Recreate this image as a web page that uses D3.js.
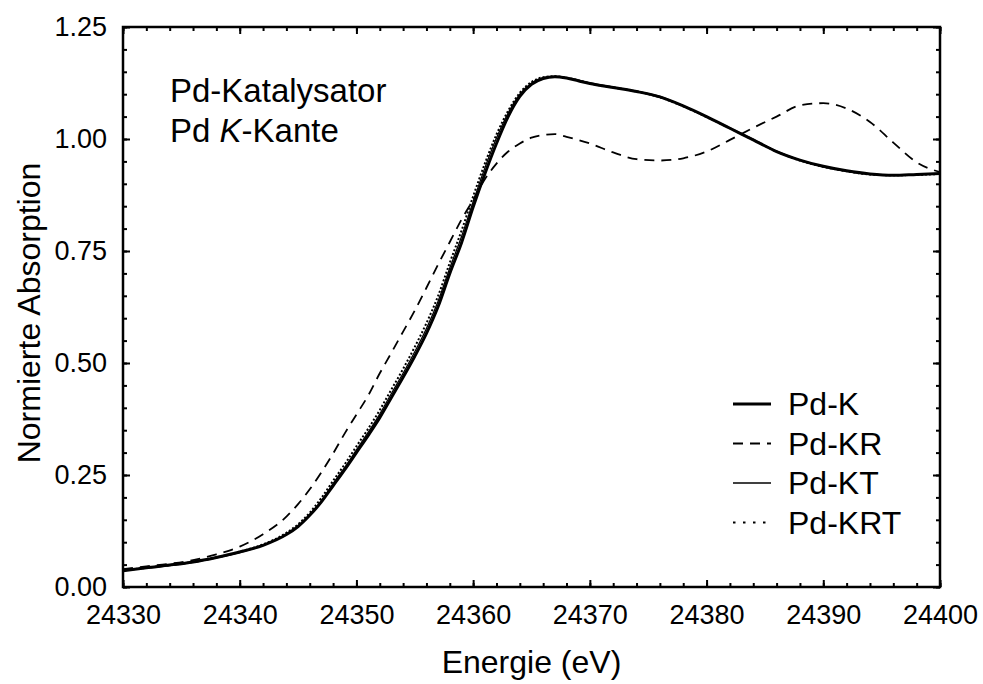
<!DOCTYPE html>
<html>
<head>
<meta charset="utf-8">
<script src="https://cdn.jsdelivr.net/npm/d3@7"></script>
<style>
  body { margin: 0; background: #fff; }
  svg text { font-family: Arial, "Liberation Sans", Helvetica, sans-serif; fill: #000; }
</style>
</head>
<body>
<svg></svg>
<script>
// energy grid (eV) shared by all spectra
var energy = [24330, 24332, 24334, 24336, 24338, 24340, 24342, 24344, 24345, 24346,
  24347, 24348, 24349, 24350, 24351, 24352, 24353, 24354, 24355, 24356,
  24357, 24358, 24359, 24360, 24361, 24362, 24363, 24364, 24365, 24366,
  24367, 24368, 24369, 24370, 24372, 24374, 24376, 24378, 24380, 24382,
  24384, 24386, 24388, 24390, 24392, 24394, 24396, 24398, 24400];

var pdK = [0.036, 0.043, 0.049, 0.056, 0.066, 0.078, 0.093, 0.117, 0.135, 0.160,
  0.190, 0.226, 0.262, 0.300, 0.338, 0.378, 0.423, 0.468, 0.515, 0.566,
  0.626, 0.700, 0.768, 0.848, 0.922, 0.990, 1.050, 1.095, 1.122, 1.135,
  1.139, 1.136, 1.130, 1.124, 1.115, 1.106, 1.094, 1.074, 1.050, 1.024,
  0.998, 0.972, 0.953, 0.939, 0.929, 0.922, 0.919, 0.921, 0.923];

var pdKR = [0.040, 0.046, 0.052, 0.060, 0.073, 0.090, 0.118, 0.157, 0.185, 0.218,
  0.256, 0.298, 0.343, 0.385, 0.427, 0.477, 0.523, 0.570, 0.617, 0.668,
  0.720, 0.770, 0.820, 0.864, 0.910, 0.945, 0.972, 0.990, 1.003, 1.009,
  1.011, 1.005, 0.998, 0.990, 0.970, 0.955, 0.952, 0.957, 0.972, 0.998,
  1.025, 1.050, 1.075, 1.080, 1.068, 1.038, 0.992, 0.948, 0.926];

var pdKT = [0.036, 0.042, 0.048, 0.055, 0.065, 0.077, 0.093, 0.118, 0.136, 0.162,
  0.193, 0.231, 0.267, 0.306, 0.345, 0.386, 0.432, 0.477, 0.525, 0.577,
  0.638, 0.712, 0.782, 0.860, 0.935, 1.002, 1.058, 1.100, 1.125, 1.137,
  1.140, 1.137, 1.131, 1.125, 1.116, 1.107, 1.095, 1.074, 1.050, 1.025,
  0.999, 0.973, 0.953, 0.938, 0.928, 0.921, 0.919, 0.920, 0.922];

var pdKRT = [0.037, 0.043, 0.049, 0.056, 0.066, 0.079, 0.095, 0.121, 0.140, 0.166,
  0.199, 0.237, 0.274, 0.314, 0.353, 0.395, 0.441, 0.487, 0.536, 0.589,
  0.650, 0.724, 0.795, 0.872, 0.945, 1.010, 1.063, 1.103, 1.127, 1.138,
  1.140, 1.137, 1.131, 1.124, 1.115, 1.106, 1.093, 1.073, 1.049, 1.024,
  0.998, 0.972, 0.952, 0.938, 0.928, 0.921, 0.919, 0.920, 0.922];

var seriesNames = ['Pd-K', 'Pd-KR', 'Pd-KT', 'Pd-KRT'];
var xTicks = [24330, 24340, 24350, 24360, 24370, 24380, 24390, 24400];
var yTicks = [0, 0.25, 0.5, 0.75, 1.0, 1.25];

var width = 983, height = 684;
var margin = {left: 123, right: 43, top: 27, bottom: 97};
var plotW = width - margin.left - margin.right,
    plotH = height - margin.top - margin.bottom;

var svg = d3.select('svg')
  .attr('width', width)
  .attr('height', height);

var x = d3.scaleLinear().domain([24330, 24400]).range([0, plotW]);
var y = d3.scaleLinear().domain([0, 1.25]).range([plotH, 0]);

var g = svg.append('g').attr('transform', 'translate(' + margin.left + ',' + margin.top + ')');

g.append('clipPath').attr('id', 'clip')
  .append('rect').attr('width', plotW).attr('height', plotH);

var styles = [
  {w: 3, dash: null, legDash: null},
  {w: 1.8, dash: '10,7', legDash: '10,7'},
  {w: 1.3, dash: null, legDash: null},
  {w: 2, dash: '2,2', legDash: '2.5,7.5'}
];
var values = [pdK, pdKR, pdKT, pdKRT];

var line = d3.line()
  .x(function(d) { return x(d[0]); })
  .y(function(d) { return y(d[1]); })
  .curve(d3.curveMonotoneX);

var gLines = g.append('g').attr('clip-path', 'url(#clip)');
// thick one first, thin ones over it
[0, 1, 3, 2].forEach(function(i) {
  var pts = energy.map(function(e, k) { return [e, values[i][k]]; });
  gLines.append('path')
    .attr('d', line(pts))
    .attr('fill', 'none')
    .attr('stroke', '#000')
    .attr('stroke-width', styles[i].w)
    .attr('stroke-dasharray', styles[i].dash);
});

// axes: ticks inside, on all four sides
var xMinor = d3.range(24330, 24400.1, 2);
var yMinor = d3.range(0, 1.2501, 0.05);

function tickStyle(sel) {
  sel.select('.domain').remove();
  sel.selectAll('line').attr('stroke', '#000').attr('stroke-width', 2);
}

g.append('g').attr('transform', 'translate(0,' + plotH + ')')
  .call(d3.axisBottom(x).tickValues(xMinor).tickSize(-4).tickFormat(''))
  .call(tickStyle);
g.append('g').attr('transform', 'translate(0,' + plotH + ')')
  .call(d3.axisBottom(x).tickValues(xTicks).tickSize(-7).tickPadding(18).tickFormat(d3.format('d')))
  .call(tickStyle)
  .selectAll('text').attr('font-size', 27);

g.append('g')
  .call(d3.axisTop(x).tickValues(xMinor).tickSize(-4).tickFormat(''))
  .call(tickStyle);
g.append('g')
  .call(d3.axisTop(x).tickValues(xTicks).tickSize(-7).tickFormat(''))
  .call(tickStyle);

g.append('g')
  .call(d3.axisLeft(y).tickValues(yMinor).tickSize(-4).tickFormat(''))
  .call(tickStyle);
g.append('g')
  .call(d3.axisLeft(y).tickValues(yTicks).tickSize(-7).tickPadding(16).tickFormat(d3.format('.2f')))
  .call(tickStyle)
  .selectAll('text').attr('font-size', 27);

g.append('g').attr('transform', 'translate(' + plotW + ',0)')
  .call(d3.axisRight(y).tickValues(yMinor).tickSize(-4).tickFormat(''))
  .call(tickStyle);
g.append('g').attr('transform', 'translate(' + plotW + ',0)')
  .call(d3.axisRight(y).tickValues(yTicks).tickSize(-7).tickFormat(''))
  .call(tickStyle);

g.append('rect')
  .attr('width', plotW).attr('height', plotH)
  .attr('fill', 'none').attr('stroke', '#000').attr('stroke-width', 2.5);

// axis titles
svg.append('text')
  .attr('x', margin.left + plotW / 2).attr('y', 673)
  .attr('text-anchor', 'middle').attr('font-size', 32)
  .text('Energie (eV)');
svg.append('text')
  .attr('transform', 'translate(40,' + (margin.top + plotH / 2 + 6) + ') rotate(-90)')
  .attr('text-anchor', 'middle').attr('font-size', 32)
  .text('Normierte Absorption');

// annotation
svg.append('text').attr('x', 170).attr('y', 102).attr('font-size', 33).text('Pd-Katalysator');
var t2 = svg.append('text').attr('x', 170).attr('y', 142).attr('font-size', 33);
t2.append('tspan').text('Pd ');
t2.append('tspan').attr('font-style', 'italic').text('K');
t2.append('tspan').text('-Kante');

// legend
var legend = svg.append('g').attr('transform', 'translate(733,404)');
seriesNames.forEach(function(name, i) {
  var row = legend.append('g').attr('transform', 'translate(0,' + (i * 39.5) + ')');
  row.append('line')
    .attr('x1', 0).attr('x2', 38).attr('y1', 0).attr('y2', 0)
    .attr('stroke', '#000')
    .attr('stroke-width', styles[i].w)
    .attr('stroke-dasharray', styles[i].legDash);
  row.append('text')
    .attr('x', 55).attr('y', 11)
    .attr('font-size', 32)
    .text(name);
});
</script>
</body>
</html>
